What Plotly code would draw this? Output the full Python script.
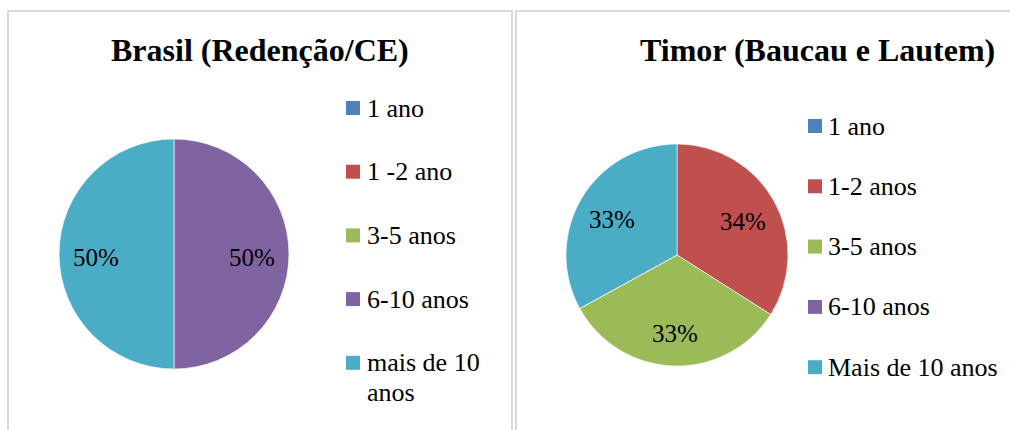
import math
import plotly.graph_objects as go

# ---- data ----
brasil_title = "Brasil (Redenção/CE)"
brasil_labels = ["1 ano", "1 -2 ano", "3-5 anos", "6-10 anos", "mais de 10<br>anos"]
brasil_values = [0, 0, 0, 50, 50]

timor_title = "Timor (Baucau e Lautem)"
timor_labels = ["1 ano", "1-2 anos", "3-5 anos", "6-10 anos", "Mais de 10 anos"]
timor_values = [0, 34, 33, 0, 33]

colors = ["#4F81BD", "#C0504D", "#9BBB59", "#8064A2", "#4BACC6"]

W, H = 1010, 430
FONT = "Liberation Serif, Times New Roman, serif"


def px(x):
    return x / W


def py(y):
    return 1 - y / H


panels = [
    dict(title=brasil_title, labels=brasil_labels, values=brasil_values,
         cx=174, cy=254, r=115, title_x=260, box=(8, 512),
         leg_sq_x=346, leg_text_x=365, leg_y0=108, leg_dy=63.7),
    dict(title=timor_title, labels=timor_labels, values=timor_values,
         cx=677, cy=255, r=111, title_x=817, box=(516, 1012),
         leg_sq_x=808, leg_text_x=826, leg_y0=126, leg_dy=60.3),
]

fig = go.Figure()
shapes = []
annotations = []

for p in panels:
    cx, cy, r = p["cx"], p["cy"], p["r"]
    fig.add_trace(go.Pie(
        labels=[l.replace("<br>", " ") for l in p["labels"]],
        values=p["values"],
        marker=dict(colors=colors, line=dict(color="rgba(255,255,255,0.6)", width=1)),
        sort=False, direction="clockwise", rotation=0,
        textinfo="none", showlegend=False,
        domain=dict(x=[px(cx - r), px(cx + r)], y=[py(cy + r), py(cy - r)]),
    ))
    # data labels at slice mid-angles
    total = sum(p["values"])
    cum = 0
    for v in p["values"]:
        if v > 0:
            mid = (cum + v / 2) / total * 2 * math.pi
            lx = cx + 0.68 * r * math.sin(mid)
            ly = cy - 0.68 * r * math.cos(mid) + 3
            annotations.append(dict(
                x=px(lx), y=py(ly), xref="paper", yref="paper",
                text=f"{round(v / total * 100)}%", showarrow=False,
                xanchor="center", yanchor="middle",
                font=dict(family=FONT, size=25, color="black")))
        cum += v
    # title
    annotations.append(dict(
        x=px(p["title_x"]), y=py(50), xref="paper", yref="paper",
        text=f"<b>{p['title']}</b>", showarrow=False,
        xanchor="center", yanchor="middle",
        font=dict(family=FONT, size=32, color="black")))
    # panel border (top, left, right edges; bottom off-canvas)
    x0, x1 = p["box"]
    shapes.append(dict(type="rect", xref="paper", yref="paper",
                       x0=px(x0), x1=px(x1), y0=py(H + 20), y1=py(11),
                       line=dict(color="#D9D9D9", width=2)))
    # legend
    for i, (lab, col) in enumerate(zip(p["labels"], colors)):
        yc = p["leg_y0"] + i * p["leg_dy"]
        shapes.append(dict(type="rect", xref="paper", yref="paper",
                           x0=px(p["leg_sq_x"]), x1=px(p["leg_sq_x"] + 14),
                           y0=py(yc + 7), y1=py(yc - 7),
                           fillcolor=col, line=dict(width=0)))
        for j, line in enumerate(lab.split("<br>")):
            annotations.append(dict(
                x=px(p["leg_text_x"]), y=py(yc + j * 30), xref="paper", yref="paper",
                text=line, showarrow=False, xanchor="left", yanchor="middle",
                font=dict(family=FONT, size=26, color="black")))

fig.update_layout(
    width=W, height=H,
    margin=dict(l=0, r=0, t=0, b=0),
    paper_bgcolor="white", plot_bgcolor="white",
    shapes=shapes, annotations=annotations,
    font=dict(family=FONT),
)

fig.write_html(
    "out.html",
    config={"displayModeBar": False},
    post_script="document.body.style.margin='0';document.body.style.overflow='hidden';",
)
